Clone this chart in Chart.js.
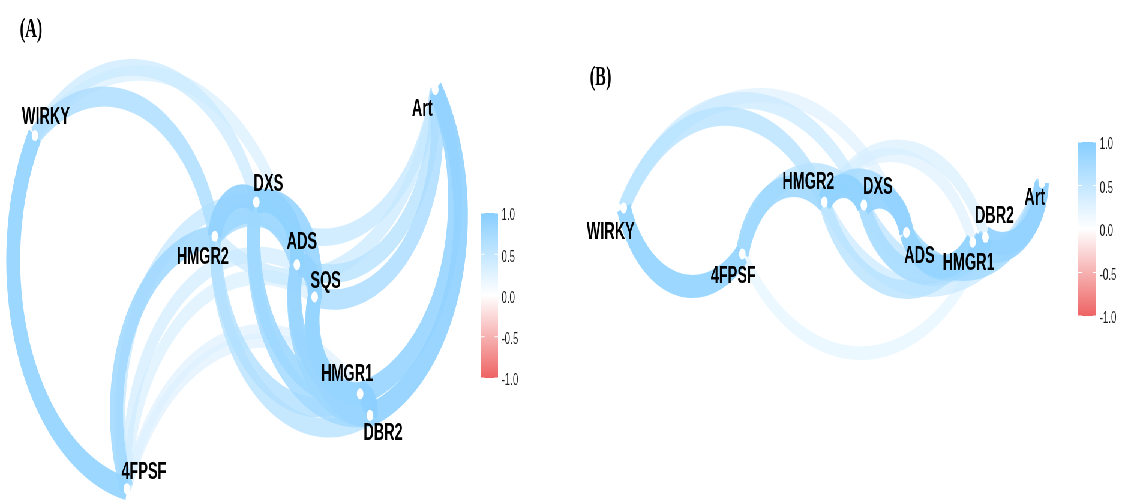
<!DOCTYPE html>
<html><head><meta charset="utf-8">
<script src="https://cdn.jsdelivr.net/npm/chart.js@4.4.0/dist/chart.umd.min.js"></script>
<style>
html,body{margin:0;padding:0;background:#fff;overflow:hidden;width:1123px;height:500px;}
#wrap{position:absolute;left:0;top:0;width:1872px;height:500px;transform:scaleX(0.6);transform-origin:0 0;}
#cA{position:absolute;left:0;top:0;}
#cB{position:absolute;left:950px;top:0;}
</style></head>
<body><div id="wrap"><canvas id="cA" width="950" height="500"></canvas><canvas id="cB" width="922" height="500"></canvas></div>
<script>
// ---------- DATA ----------
// Panel A: network layout (layout units) and correlations
const namesA = ['WIRKY','DXS','HMGR2','ADS','SQS','Art','HMGR1','DBR2','4FPSF'];
const xA = [0.32, 2.56, 2.14, 2.97, 3.15, 4.37, 3.61, 3.71, 1.25];
const yA = [3.67, 2.99, 2.64, 2.35, 2.02, 4.14, 1.03, 0.81, 0.06];
const edgeFromA = ['4FPSF','WIRKY','WIRKY','WIRKY','4FPSF','4FPSF','4FPSF','4FPSF','4FPSF','4FPSF','HMGR2','DXS','DXS','HMGR2','HMGR2','ADS','DBR2','HMGR1','DBR2','HMGR1','HMGR1','HMGR1','DBR2','DBR2','Art','Art','Art','Art','Art','Art','HMGR1'];
const edgeToA   = ['WIRKY','HMGR2','DXS','ADS','HMGR2','DXS','ADS','SQS','HMGR1','DBR2','DXS','ADS','SQS','ADS','SQS','SQS','HMGR2','HMGR2','DXS','DXS','ADS','SQS','ADS','SQS','DXS','ADS','SQS','HMGR2','HMGR1','DBR2','DBR2'];
const edgeRA    = [0.88, 0.68, 0.45, 0.35, 0.78, 0.50, 0.40, 0.35, 0.30, 0.30, 0.90, 0.92, 0.85, 0.80, 0.70, 0.90, 0.60, 0.65, 0.75, 0.80, 0.85, 0.88, 0.80, 0.85, 0.50, 0.60, 0.70, 0.45, 0.85, 0.90, 0.95];

// Panel B
const namesB = ['WIRKY','4FPSF','HMGR2','DXS','ADS','HMGR1','DBR2','Art'];
const xB = [6.21, 7.41, 8.24, 8.64, 9.07, 9.74, 9.87, 10.44];
const yB = [2.93, 2.46, 2.99, 2.96, 2.68, 2.58, 2.63, 3.19];
const edgeFromB = ['4FPSF','WIRKY','WIRKY','WIRKY','4FPSF','4FPSF','HMGR2','DXS','HMGR1','HMGR1','HMGR1','DBR2','DBR2','Art','Art','Art','Art','Art','DBR2','HMGR2','HMGR2','DBR2','HMGR2'];
const edgeToB   = ['WIRKY','HMGR2','DXS','ADS','HMGR2','DXS','DXS','ADS','ADS','DXS','HMGR2','ADS','DXS','ADS','DXS','HMGR2','DBR2','HMGR1','HMGR1','DBR2','HMGR1','4FPSF','ADS'];
const edgeRB    = [0.88, 0.60, 0.45, 0.30, 0.80, 0.60, 0.92, 0.90, 0.88, 0.70, 0.60, 0.80, 0.65, 0.75, 0.55, 0.45, 0.90, 0.85, 0.95, 0.35, 0.30, 0.25, 0.75];

// Colour-bar tick labels
const legendTicks = [1.0, 0.5, 0.0, -0.5, -1.0];
const legendTickLabels = ['1.0', '0.5', '0.0', '-0.5', '-1.0'];
const panelTitles = ['(A)', '(B)'];

// ---------- STYLE ----------
const SQ = 0.6; // horizontal squeeze of the whole picture
const POS = [135,206,255], NEG = [238,99,99];
function mixCol(r){
  const t = Math.min(1, Math.abs(r)); const c = r >= 0 ? POS : NEG;
  return c.map(v => Math.round(255 + (v - 255) * t));
}
function edgeStyle(r){
  const c = mixCol(r); const a = 0.5 + 0.5 * Math.abs(r);
  return {color: `rgba(${c[0]},${c[1]},${c[2]},${a})`, width: 10 + 15 * Math.abs(r)};
}
const labelOffA = {WIRKY:[11,-18], DXS:[12,-18], HMGR2:[-12,21], ADS:[5,-22], SQS:[11,-16], Art:[-13,20], HMGR1:[-13,-19], DBR2:[13,18], '4FPSF':[17,-16]};
const labelOffB = {WIRKY:[-13,24], '4FPSF':[-9,22], HMGR2:[-16,-20], DXS:[14,-18], ADS:[13,24], HMGR1:[-4,21], DBR2:[9,-21], Art:[-7,16]};

const netPlugin = {
  id: 'net',
  beforeDatasetsDraw(chart, args, o){
    const {ctx} = chart; const sx = chart.scales.x, sy = chart.scales.y;
    const idx = o.r.map((v,i)=>i).sort((a,b)=>Math.abs(o.r[a])-Math.abs(o.r[b]));
    ctx.save();
    ctx.lineCap = 'butt';
    for (const i of idx){
      const fi = o.names.indexOf(o.from[i]), ti = o.names.indexOf(o.to[i]);
      const p0 = {x: sx.getPixelForValue(o.xs[fi]), y: sy.getPixelForValue(o.ys[fi])};
      const p1 = {x: sx.getPixelForValue(o.xs[ti]), y: sy.getPixelForValue(o.ys[ti])};
      const dx = p1.x-p0.x, dy = p1.y-p0.y, L = Math.hypot(dx,dy);
      const nx = dy/L, ny = -dx/L;
      const h = 0.265*L, R = (L*L/4 + h*h)/(2*h);
      const mx = (p0.x+p1.x)/2, my = (p0.y+p1.y)/2;
      const cx = mx + nx*(h-R), cy = my + ny*(h-R);
      const a0 = Math.atan2(p0.y-cy, p0.x-cx), a1 = Math.atan2(p1.y-cy, p1.x-cx);
      let d = a1-a0; while(d>Math.PI) d-=2*Math.PI; while(d<-Math.PI) d+=2*Math.PI;
      const st = edgeStyle(o.r[i]);
      ctx.strokeStyle = st.color; ctx.lineWidth = st.width;
      ctx.beginPath(); ctx.arc(cx, cy, R, a0, a1, d < 0); ctx.stroke();
    }
    ctx.restore();
  },
  afterDatasetsDraw(chart, args, o){
    const {ctx} = chart; const sx = chart.scales.x, sy = chart.scales.y;
    ctx.save();
    // node labels
    ctx.fillStyle = '#000'; ctx.font = 'bold 24px "Liberation Sans", Arial, sans-serif';
    ctx.textAlign = 'center'; ctx.textBaseline = 'middle';
    o.names.forEach((n,i)=>{
      const off = o.labelOff[n];
      ctx.fillText(n, sx.getPixelForValue(o.xs[i]) + off[0]/SQ, sy.getPixelForValue(o.ys[i]) + off[1]);
    });
    // title
    ctx.font = 'bold 27px "Liberation Serif", "Times New Roman", serif';
    ctx.textAlign = 'left'; ctx.textBaseline = 'alphabetic';
    ctx.fillText(o.title, o.titleX, o.titleY);
    // colour bar
    const b = o.bar;
    const g = ctx.createLinearGradient(0, b.top, 0, b.bottom);
    g.addColorStop(0, 'rgb(135,206,255)'); g.addColorStop(0.5, '#ffffff'); g.addColorStop(1, 'rgb(238,99,99)');
    ctx.fillStyle = g; ctx.fillRect(b.left, b.top, b.width, b.bottom - b.top);
    ctx.strokeStyle = '#ffffff'; ctx.lineWidth = 1.2;
    ctx.fillStyle = '#1a1a1a'; ctx.font = '16px "Liberation Sans", Arial, sans-serif';
    ctx.textBaseline = 'middle'; ctx.textAlign = 'left';
    legendTicks.forEach((v,i)=>{
      const yy = b.bottom - (v + 1) / 2 * (b.bottom - b.top);
      ctx.beginPath(); ctx.moveTo(b.left, yy); ctx.lineTo(b.left + b.width*0.2, yy);
      ctx.moveTo(b.left + b.width*0.8, yy); ctx.lineTo(b.left + b.width, yy); ctx.stroke();
      ctx.fillText(legendTickLabels[i], b.left + b.width + 6, yy + 3);
    });
    ctx.restore();
  }
};

function makeChart(id, names, xs, ys, from, to, r, xmin, xmax, labelOff, title, titleX, titleY, bar){
  return new Chart(document.getElementById(id), {
    type: 'scatter',
    data: { datasets: [{
      data: names.map((n,i)=>({x: xs[i], y: ys[i]})),
      pointRadius: 5.5, pointBackgroundColor: '#ffffff', pointBorderWidth: 0, clip: false
    }]},
    options: {
      responsive: false, animation: false, devicePixelRatio: 1,
      layout: {padding: 0},
      scales: {
        x: {type: 'linear', display: false, min: xmin, max: xmax},
        y: {type: 'linear', display: false, min: 0, max: 5}
      },
      plugins: {
        legend: {display: false}, tooltip: {enabled: false},
        net: {names, xs, ys, from, to, r, labelOff, title, titleX, titleY, bar}
      }
    },
    plugins: [netPlugin]
  });
}

makeChart('cA', namesA, xA, yA, edgeFromA, edgeToA, edgeRA, 0, 5.70, labelOffA, panelTitles[0], 33, 37,
  {left: 802, width: 28, top: 213, bottom: 378});
makeChart('cB', namesB, xB, yB, edgeFromB, edgeToB, edgeRB, 5.70, 11.23, labelOffB, panelTitles[1], 33, 85,
  {left: 847, width: 30, top: 142, bottom: 316});
</script>
</body></html>
